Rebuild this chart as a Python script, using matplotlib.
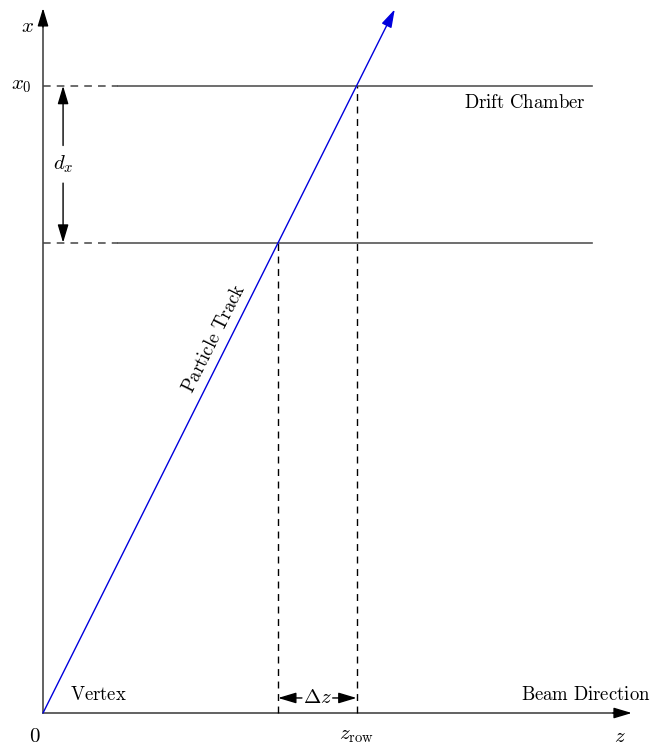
import matplotlib.pyplot as plt

plt.rcParams['mathtext.fontset'] = 'cm'
plt.rcParams['font.family'] = 'serif'
plt.rcParams['font.serif'] = ['DejaVu Serif']

# geometry of the drift chamber sketch (arbitrary units)
x0 = 10.0            # upper row of the chamber
dx = 2.5             # row spacing
slope = 2.0          # track: x = slope * z
track_end = [5.61, 11.22]
x_axis_top = 11.24
z_axis_end = 9.39
row_start = 1.2      # where solid chamber line begins
row_stop = 8.76

rows = [x0, x0 - dx]
row_z = [r / slope for r in rows]   # crossing points of the track
z_row = row_z[0]

GREY = '#555555'
fs = 13.5      # roman labels
fm = 15.0      # math symbols

fig = plt.figure(figsize=(6.51, 7.46), dpi=100)
ax = fig.add_axes([0, 0, 1, 1])
ax.set_xlim(-0.686, 9.697)
ax.set_ylim(-0.526, 11.37)
ax.axis('off')

head = '-|>,head_length=1.0,head_width=0.3'
arrow_kw = dict(arrowstyle=head, color='black', lw=1.0, mutation_scale=11,
                shrinkA=0, shrinkB=0)

# axes: grey shafts, black heads
ax.plot([0, z_axis_end - 0.1], [0, 0], color=GREY, lw=1.3)
ax.plot([0, 0], [0, x_axis_top - 0.1], color=GREY, lw=1.3)
ax.annotate('', xy=(z_axis_end, 0), xytext=(z_axis_end - 0.3, 0),
            arrowprops=arrow_kw)
ax.annotate('', xy=(0, x_axis_top), xytext=(0, x_axis_top - 0.3),
            arrowprops=arrow_kw)

# chamber rows: dashed lead-in from the axis, then solid
for r, zc in zip(rows, row_z):
    ax.plot([0, row_start], [r, r], color='#444444', lw=1.1, ls=(0, (5, 4)))
    ax.plot([row_start, row_stop], [r, r], color='#555555', lw=1.2)
    ax.plot([zc, zc], [0, r], color='black', lw=1.0, ls=(0, (5, 4)))

# particle track
ax.annotate('', xy=track_end, xytext=(0, 0),
            arrowprops=dict(arrow_kw, color='#0000dd'))

# row spacing arrow
dz_x = 0.32
ax.annotate('', xy=(dz_x, rows[0]), xytext=(dz_x, rows[0] - dx / 2 + 0.3),
            arrowprops=arrow_kw)
ax.annotate('', xy=(dz_x, rows[1]), xytext=(dz_x, rows[0] - dx / 2 - 0.3),
            arrowprops=arrow_kw)
ax.text(dz_x, rows[0] - dx / 2, r'$d_x$', fontsize=fm, ha='center', va='center')

# delta z arrow
yb = 0.24
ax.annotate('', xy=(row_z[1], yb), xytext=(row_z[1] + 0.38, yb),
            arrowprops=arrow_kw)
ax.annotate('', xy=(row_z[0], yb), xytext=(row_z[0] - 0.38, yb),
            arrowprops=arrow_kw)
ax.text((row_z[0] + row_z[1]) / 2, yb, r'$\Delta z$', fontsize=fm,
        ha='center', va='center')

# labels
ax.text(-0.24, x_axis_top - 0.3, r'$x$', fontsize=fm, ha='center', va='center')
ax.text(-0.34, x0, r'$x_0$', fontsize=fm, ha='center', va='center')
ax.text(-0.13, -0.37, r'$0$', fontsize=fm, ha='center', va='center')
ax.text(z_row, -0.36, r'$z_{\mathrm{row}}$', fontsize=fm, ha='center', va='center')
ax.text(9.2, -0.38, r'$z$', fontsize=fm, ha='center', va='center')
ax.text(0.43, 0.28, r'$\mathrm{Vertex}$', fontsize=fs, ha='left', va='center')
ax.text(9.69, 0.28, r'$\mathrm{Beam\ Direction}$', fontsize=fs, ha='right', va='center')
ax.text(8.66, x0 - 0.28, r'$\mathrm{Drift\ Chamber}$', fontsize=fs, ha='right', va='center')
ax.text(2.74, 5.98, r'$\mathrm{Particle\ Track}$', fontsize=fs, ha='center', va='center',
        rotation=63.4, rotation_mode='anchor')

fig.savefig('out.png', dpi=100)
